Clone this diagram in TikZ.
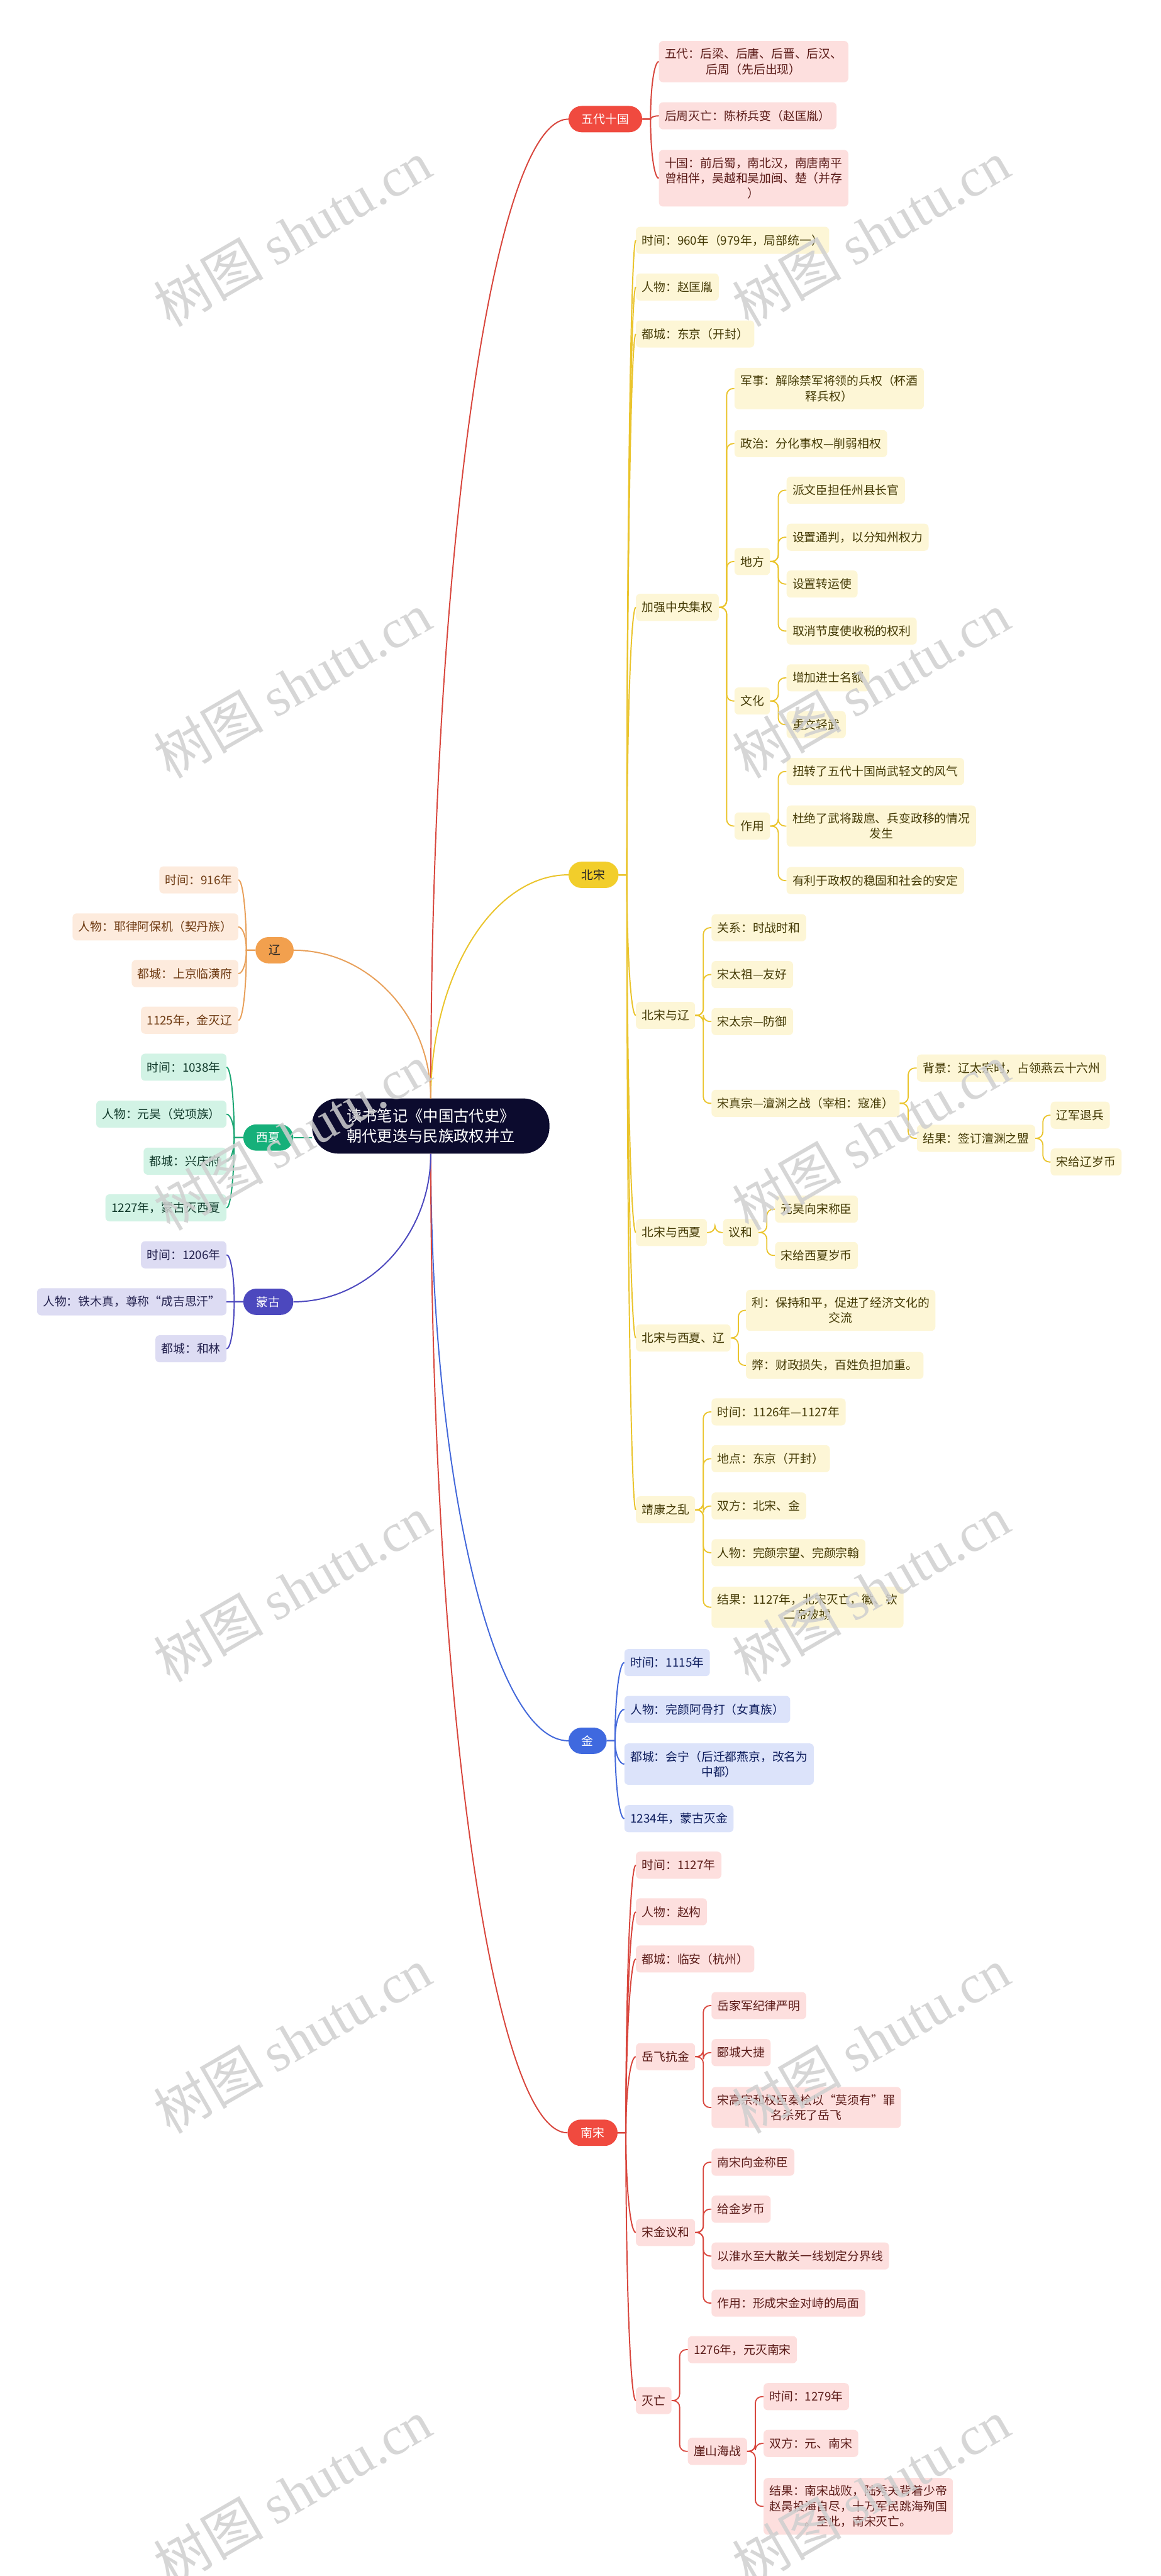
\documentclass[tikz,border=0pt]{standalone}
\usepackage{fontspec}
\setmainfont{Noto Sans CJK SC}
\newfontfamily\marksfont{Liberation Serif}
\usepackage{xcolor}
\usepackage{tikz}
\usetikzlibrary{positioning, calc}

\definecolor{rootbg}{HTML}{0C0B2E}
\definecolor{redtop}{HTML}{F04A3F}
\definecolor{redline}{HTML}{D8463D}
\definecolor{redbg}{HTML}{FDDFDE}
\definecolor{redtx}{HTML}{5B1B18}
\definecolor{ylwtop}{HTML}{F2CE2B}
\definecolor{ylwline}{HTML}{EAC42C}
\definecolor{ylwbg}{HTML}{FDF6D6}
\definecolor{ylwtx}{HTML}{443A05}
\definecolor{orgtop}{HTML}{F2A04E}
\definecolor{orgline}{HTML}{E8A05A}
\definecolor{orgbg}{HTML}{FDEBDD}
\definecolor{orgtx}{HTML}{6E3A12}
\definecolor{grntop}{HTML}{16B07A}
\definecolor{grnline}{HTML}{1BA673}
\definecolor{grnbg}{HTML}{D2F3E5}
\definecolor{grntx}{HTML}{10392A}
\definecolor{purtop}{HTML}{4C48BE}
\definecolor{purline}{HTML}{4C48BE}
\definecolor{purbg}{HTML}{DDDCF3}
\definecolor{purtx}{HTML}{22204D}
\definecolor{blutop}{HTML}{3F69DF}
\definecolor{bluline}{HTML}{4368DA}
\definecolor{blubg}{HTML}{DCE3FA}
\definecolor{blutx}{HTML}{0F1E5E}

\tikzset{
    centre/.style={fill=rootbg, text=white, rounded corners=16mm, inner xsep=21mm, inner ysep=6.3mm, align=center, font=\fontsize{26.5}{35}\selectfont},
    topic/.style={rounded corners=7.9mm, inner xsep=8mm, inner ysep=0pt, minimum height=16mm, font=\fontsize{20.5}{26.5}\selectfont},
    leaf/.style={rounded corners=2.5mm, inner xsep=3.6mm, inner ysep=4.5mm, minimum height=16.5mm, align=center, font=\fontsize{20.5}{26.5}\selectfont},
    redtopic/.style={topic, fill=redtop, text=white},
    ylwtopic/.style={topic, fill=ylwtop, text=black!85},
    orgtopic/.style={topic, fill=orgtop, text=black!85},
    grntopic/.style={topic, fill=grntop, text=white},
    purtopic/.style={topic, fill=purtop, text=white},
    blutopic/.style={topic, fill=blutop, text=white},
    redleaf/.style={leaf, fill=redbg, text=redtx, anchor=west},
    ylwleaf/.style={leaf, fill=ylwbg, text=ylwtx, anchor=west},
    bluleaf/.style={leaf, fill=blubg, text=blutx, anchor=west},
    orgleaf/.style={leaf, fill=orgbg, text=orgtx, anchor=east},
    grnleaf/.style={leaf, fill=grnbg, text=grntx, anchor=east},
    purleaf/.style={leaf, fill=purbg, text=purtx, anchor=east},
    link/.style={line width=0.75mm},
    elbow/.style={line width=0.7mm, rounded corners=4mm},
    wmark/.style={rotate=30, text=black!19, opacity=0.85, font=\fontsize{95}{95}\selectfont},
}

\begin{document}
\begin{tikzpicture}[x=1mm, y=-1mm]
\useasboundingbox (0,0) rectangle (706.4,1568);

% centre
\node[centre] (root) at (262.2,685.4) {读书笔记《中国古代史》\\朝代更迭与民族政权并立};

% main topics
\node[redtopic, anchor=west] (wd) at (346,72.5) {五代十国};
\node[ylwtopic, anchor=west] (bs) at (346,532.5) {北宋};
\node[orgtopic, anchor=east] (liao) at (178.8,578.4) {辽};
\node[grntopic, anchor=east] (xx) at (178.6,692.4) {西夏};
\node[purtopic, anchor=east] (mg) at (178.6,792.4) {蒙古};
\node[blutopic, anchor=west] (jin) at (346,1059.6) {金};
\node[redtopic, anchor=west] (ns) at (345.4,1298.2) {南宋};

% 五代十国
\node[redleaf] (wdA) at (401,37.5) {五代：后梁、后唐、后晋、后汉、\\后周（先后出现）};
\node[redleaf] (wdB) at (401,70.5) {后周灭亡：陈桥兵变（赵匡胤）};
\node[redleaf] (wdC) at (401,108.5) {十国：前后蜀，南北汉，南唐南平\\曾相伴，吴越和吴加闽、楚（并存\\）};

% 北宋
\node[ylwleaf] (bsA) at (387,146.3) {时间：960年（979年，局部统一）};
\node[ylwleaf] (bsB) at (387,174.7) {人物：赵匡胤};
\node[ylwleaf] (bsC) at (387,203.3) {都城：东京（开封）};
\node[ylwleaf] (bsD) at (387,369.7) {加强中央集权};
\node[ylwleaf] (bsE) at (387,618.1) {北宋与辽};
\node[ylwleaf] (bsF) at (387,750.2) {北宋与西夏};
\node[ylwleaf] (bsG) at (387,814.4) {北宋与西夏、辽};
\node[ylwleaf] (bsH) at (387,919.0) {靖康之乱};

\node[ylwleaf] (jqA) at (447,236.5) {军事：解除禁军将领的兵权（杯酒\\释兵权）};
\node[ylwleaf] (jqB) at (447,270.0) {政治：分化事权—削弱相权};
\node[ylwleaf] (jqC) at (447,341.8) {地方};
\node[ylwleaf] (jqD) at (447,426.7) {文化};
\node[ylwleaf] (jqE) at (447,502.8) {作用};

\node[ylwleaf] (dfA) at (478.7,298.4) {派文臣担任州县长官};
\node[ylwleaf] (dfB) at (478.7,327.0) {设置通判，以分知州权力};
\node[ylwleaf] (dfC) at (478.7,355.5) {设置转运使};
\node[ylwleaf] (dfD) at (478.7,384.1) {取消节度使收税的权利};
\node[ylwleaf] (whA) at (478.7,412.6) {增加进士名额};
\node[ylwleaf] (whB) at (478.7,441.1) {重文轻武};
\node[ylwleaf] (zyA) at (478.7,469.6) {扭转了五代十国尚武轻文的风气};
\node[ylwleaf] (zyB) at (478.7,502.8) {杜绝了武将跋扈、兵变政移的情况\\发生};
\node[ylwleaf] (zyC) at (478.7,536.0) {有利于政权的稳固和社会的安定};

\node[ylwleaf] (lyA) at (433,564.7) {关系：时战时和};
\node[ylwleaf] (lyB) at (433,593.2) {宋太祖—友好};
\node[ylwleaf] (lyC) at (433,621.8) {宋太宗—防御};
\node[ylwleaf] (lyD) at (433,671.6) {宋真宗—澶渊之战（宰相：寇准）};
\node[ylwleaf] (cyA) at (558,650.1) {背景：辽太宗时，占领燕云十六州};
\node[ylwleaf] (cyB) at (558,692.9) {结果：签订澶渊之盟};
\node[ylwleaf] (jgA) at (639.4,678.8) {辽军退兵};
\node[ylwleaf] (jgB) at (639.4,707.3) {宋给辽岁币};

\node[ylwleaf] (yh) at (440,750.2) {议和};
\node[ylwleaf] (yhA) at (471.7,736.0) {元昊向宋称臣};
\node[ylwleaf] (yhB) at (471.7,764.2) {宋给西夏岁币};

\node[ylwleaf] (lbA) at (454,797.6) {利：保持和平，促进了经济文化的\\交流};
\node[ylwleaf] (lbB) at (454,831.1) {弊：财政损失，百姓负担加重。};

\node[ylwleaf] (jkA) at (433,859.4) {时间：1126年—1127年};
\node[ylwleaf] (jkB) at (433,887.9) {地点：东京（开封）};
\node[ylwleaf] (jkC) at (433,916.7) {双方：北宋、金};
\node[ylwleaf] (jkD) at (433,945.1) {人物：完颜宗望、完颜宗翰};
\node[ylwleaf] (jkE) at (433,978.3) {结果：1127年，北宋灭亡，徽、钦\\二帝被掳};

% 辽, 西夏, 蒙古
\node[orgleaf] (lA) at (145.1,535.6) {时间：916年};
\node[orgleaf] (lB) at (145.1,564.2) {人物：耶律阿保机（契丹族）};
\node[orgleaf] (lC) at (145.1,592.6) {都城：上京临潢府};
\node[orgleaf] (lD) at (145.1,621.0) {1125年，金灭辽};

\node[grnleaf] (xA) at (137.9,649.6) {时间：1038年};
\node[grnleaf] (xB) at (137.9,678.2) {人物：元昊（党项族）};
\node[grnleaf] (xC) at (137.9,706.8) {都城：兴庆府};
\node[grnleaf] (xD) at (137.9,735.2) {1227年，蒙古灭西夏};

\node[purleaf] (mA) at (137.9,763.8) {时间：1206年};
\node[purleaf] (mB) at (137.9,792.4) {人物：铁木真，尊称“成吉思汗”};
\node[purleaf] (mC) at (137.9,821.0) {都城：和林};

% 金
\node[bluleaf] (jA) at (380,1012) {时间：1115年};
\node[bluleaf] (jB) at (380,1040.5) {人物：完颜阿骨打（女真族）};
\node[bluleaf] (jC) at (380,1073.8) {都城：会宁（后迁都燕京，改名为\\中都）};
\node[bluleaf] (jD) at (380,1107) {1234年，蒙古灭金};

% 南宋
\node[redleaf] (nA) at (387,1135.3) {时间：1127年};
\node[redleaf] (nB) at (387,1163.7) {人物：赵构};
\node[redleaf] (nC) at (387,1192.4) {都城：临安（杭州）};
\node[redleaf] (nD) at (387,1251.9) {岳飞抗金};
\node[redleaf] (nE) at (387,1358.9) {宋金议和};
\node[redleaf] (nF) at (387,1461.2) {灭亡};
\node[redleaf] (yfA) at (433,1220.8) {岳家军纪律严明};
\node[redleaf] (yfB) at (433,1249.4) {郾城大捷};
\node[redleaf] (yfC) at (433,1282.8) {宋高宗和权臣秦桧以“莫须有”罪\\名杀死了岳飞};
\node[redleaf] (sjA) at (433,1316.1) {南宋向金称臣};
\node[redleaf] (sjB) at (433,1344.7) {给金岁币};
\node[redleaf] (sjC) at (433,1373.2) {以淮水至大散关一线划定分界线};
\node[redleaf] (sjD) at (433,1401.9) {作用：形成宋金对峙的局面};
\node[redleaf] (mwA) at (418.6,1430.2) {1276年，元灭南宋};
\node[redleaf] (mwB) at (418.6,1492.1) {崖山海战};
\node[redleaf] (ysA) at (464.7,1458.8) {时间：1279年};
\node[redleaf] (ysB) at (464.7,1487.3) {双方：元、南宋};
\node[redleaf] (ysC) at (464.7,1525.6) {结果：南宋战败，陆秀夫背着少帝\\赵昺投海自尽，十万军民跳海殉国\\。至此，南宋灭亡。};

% centre to main topics
\foreach \tp/\fr/\en/\col in {wd/north/west/redline, bs/north/west/ylwline, jin/south/west/bluline, ns/south/west/redline, liao/north/east/orgline, mg/south/east/purline}
    \draw[link, draw=\col] (root.\fr) .. controls ($(root.\fr)!0.55!(root.\fr|-\tp.\en)$) and ($(\tp.\en)!0.55!(root.\fr|-\tp.\en)$) .. (\tp.\en);
\draw[link, draw=grnline] (xx.east) -- (xx.east-|root.west);

% main topics to first level
\foreach \pa/\ch/\col in {wd/wdA/redline, wd/wdB/redline, wd/wdC/redline,
    bs/bsA/ylwline, bs/bsB/ylwline, bs/bsC/ylwline, bs/bsD/ylwline, bs/bsE/ylwline, bs/bsF/ylwline, bs/bsG/ylwline, bs/bsH/ylwline,
    jin/jA/bluline, jin/jB/bluline, jin/jC/bluline, jin/jD/bluline,
    ns/nA/redline, ns/nB/redline, ns/nC/redline, ns/nD/redline, ns/nE/redline, ns/nF/redline}
    \draw[link, draw=\col] (\pa.east) -- ++(5,0) coordinate (s) .. controls ($(s)!0.55!(s|-\ch.west)$) and ($(\ch.west)!0.55!(s|-\ch.west)$) .. (\ch.west);
\foreach \pa/\ch/\col in {liao/lA/orgline, liao/lB/orgline, liao/lC/orgline, liao/lD/orgline,
    xx/xA/grnline, xx/xB/grnline, xx/xC/grnline, xx/xD/grnline,
    mg/mA/purline, mg/mB/purline, mg/mC/purline}
    \draw[link, draw=\col] (\pa.west) -- ++(-5.5,0) coordinate (s) .. controls ($(s)!0.55!(s|-\ch.east)$) and ($(\ch.east)!0.55!(s|-\ch.east)$) .. (\ch.east);

% deeper levels
\foreach \pa/\ch in {bsD/jqA, bsD/jqB, bsD/jqC, bsD/jqD, bsD/jqE, jqC/dfA, jqC/dfB, jqC/dfC, jqC/dfD,
    jqD/whA, jqD/whB, jqE/zyA, jqE/zyB, jqE/zyC, bsE/lyA, bsE/lyB, bsE/lyC, bsE/lyD, lyD/cyA, lyD/cyB,
    cyB/jgA, cyB/jgB, bsF/yh, yh/yhA, yh/yhB, bsG/lbA, bsG/lbB, bsH/jkA, bsH/jkB, bsH/jkC, bsH/jkD, bsH/jkE}
    \draw[elbow, draw=ylwline] (\pa.east) -- ($(\pa.east)!0.5!(\pa.east-|\ch.west)$) |- (\ch.west);
\foreach \pa/\ch in {nD/yfA, nD/yfB, nD/yfC, nE/sjA, nE/sjB, nE/sjC, nE/sjD, nF/mwA, nF/mwB, mwB/ysA, mwB/ysB, mwB/ysC}
    \draw[elbow, draw=redline] (\pa.east) -- ($(\pa.east)!0.5!(\pa.east-|\ch.west)$) |- (\ch.west);

% watermark
\foreach \wx in {178,530}
    \foreach \wy in {142,417,692,967,1242,1517}
        \node[wmark] (wm-\wx-\wy) at (\wx,\wy) {树图 {\marksfont shutu.cn}};
\end{tikzpicture}
\end{document}
